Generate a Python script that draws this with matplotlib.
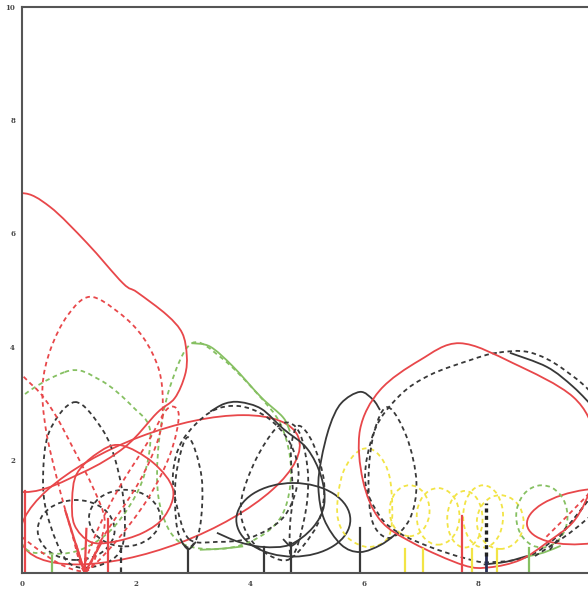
import matplotlib
matplotlib.use("Agg")
import matplotlib.pyplot as plt
from matplotlib.path import Path
from matplotlib.patches import PathPatch, Ellipse

RED = "#e8474a"
BLACK = "#383838"
GREEN = "#86c062"
YELLOW = "#f2e445"
NAVY = "#2a2f55"
DASH = (0, (2.5, 2.0))

x_ticks = [0, 2, 4, 6, 8]
y_ticks = [2, 4, 6, 8, 10]

# crown outlines, points (data units)
red_big_left = [(0, 6.71), (0.49, 6.47), (1.14, 5.83), (1.77, 5.12), (2.02, 4.96), (2.54, 4.56),
                (2.81, 4.24), (2.89, 3.85), (2.86, 3.5), (2.68, 3.09), (2.37, 2.83), (1.81, 2.23),
                (1.05, 1.77), (0.05, 1.43), (-1.05, 1.77), (-2.37, 2.83), (-2.89, 3.85),
                (-2.02, 4.96), (-1.14, 5.83), (-0.49, 6.47)]
red_dash_tall = [(1.1, 0.03), (0.85, 0.8), (0.62, 1.64), (0.42, 2.53), (0.36, 3.3), (0.5, 3.95),
                 (0.8, 4.55), (1.19, 4.88), (1.7, 4.6), (2.12, 4.17), (2.4, 3.6), (2.47, 3.0),
                 (2.4, 2.4), (2.05, 1.6), (1.4, 0.6)]
red_dash_lean_left = [(1.1, 0.03), (1.35, 0.5), (1.45, 0.95), (1.25, 1.5), (0.9, 2.2), (0.55, 2.85),
                      (0.2, 3.3), (-0.3, 3.6), (-1.2, 3.2), (-0.8, 1.5), (0.3, 0.4)]
red_dash_lean_right = [(1.1, 0.03), (1.6, 0.5), (2.2, 1.3), (2.6, 2.1), (2.75, 2.8), (2.55, 2.9),
                       (2.2, 2.3), (1.7, 1.5), (1.3, 0.7)]
red_egg_small = [(1.72, 2.26), (2.3, 1.95), (2.65, 1.47), (2.5, 1.0), (2.12, 0.71), (1.6, 0.55),
                 (1.2, 0.55), (0.92, 0.85), (0.88, 1.3), (0.96, 1.75), (1.3, 2.1)]
red_big_right = [(7.68, 4.06), (8.61, 3.71), (9.67, 3.11), (10.05, 2.4), (10.0, 1.6), (9.7, 0.94),
                 (9.2, 0.53), (8.74, 0.23), (8.2, 0.1), (7.74, 0.14), (6.86, 0.53), (6.28, 0.94),
                 (5.98, 1.64), (5.93, 2.53), (6.28, 3.23), (6.98, 3.76)]
black_dash_right = [(8.33, 3.89), (7.86, 3.76), (7.16, 3.5), (6.63, 3.14), (6.19, 2.53), (6.02, 1.64),
                    (6.28, 1.0), (6.63, 0.7), (7.16, 0.46), (7.74, 0.27), (8.21, 0.19), (9.0, 0.35),
                    (9.8, 1.1), (10.2, 2.0), (10.1, 3.0), (9.5, 3.6), (8.9, 3.9)]
black_dash_inner = [(6.42, 2.93), (6.75, 2.4), (6.92, 1.6), (6.8, 0.95), (6.45, 0.62), (6.15, 0.9),
                    (6.08, 1.7), (6.18, 2.5)]
black_tall = [(6.28, 2.88), (6.16, 3.06), (5.93, 3.2), (5.6, 3.0), (5.4, 2.6), (5.25, 2.0),
              (5.2, 1.5), (5.3, 0.95), (5.6, 0.5), (5.93, 0.37), (6.3, 0.5), (6.6, 0.72)]
black_arc_top = [(8.56, 3.89), (9.21, 3.64), (9.67, 3.29), (10.05, 2.9)]
black_arc_low = [(8.1, 0.15), (8.5, 0.2), (8.86, 0.3)]
black_mid = [(3.3, 2.85), (3.55, 2.99), (3.82, 3.02), (4.2, 2.9), (4.58, 2.55), (5.0, 2.2),
             (5.25, 1.7), (5.3, 1.2), (5.1, 0.8), (4.7, 0.5), (4.23, 0.46), (3.8, 0.55), (3.42, 0.71)]
black_dash_mid = [(2.93, 0.6), (2.72, 1.17), (2.65, 1.77), (2.82, 2.35), (3.3, 2.84), (3.8, 2.95),
                  (4.3, 2.75), (4.7, 2.3), (4.85, 1.7), (4.6, 1.0), (4.0, 0.62), (3.42, 0.55)]
black_dash_narrow = [(2.92, 0.45), (2.72, 0.8), (2.7, 1.7), (2.91, 2.4), (3.15, 1.7), (3.12, 0.8)]
black_dash_egg = [(4.7, 0.25), (4.2, 0.4), (3.9, 0.8), (3.85, 1.3), (4.1, 2.0), (4.45, 2.55),
                  (4.7, 2.65), (4.9, 2.4), (5.02, 1.7), (4.95, 0.95)]
black_dash_lean = [(4.72, 0.3), (4.95, 0.5), (5.22, 0.95), (5.3, 1.6), (5.1, 2.3), (4.85, 2.6),
                   (4.72, 2.2), (4.75, 1.4), (4.7, 0.8)]
black_dash_left = [(0.93, 3.02), (1.4, 2.55), (1.65, 1.95), (1.8, 1.1), (1.73, 0.4), (1.3, 0.12),
                   (0.8, 0.2), (0.45, 1.0), (0.37, 1.7), (0.48, 2.5)]
green_dash_left = [(0.75, 3.55), (1.37, 3.41), (1.95, 2.93), (2.25, 2.5), (2.1, 1.6), (1.6, 0.8),
                   (1.0, 0.4), (0.4, 0.35), (0.0, 0.5), (-0.5, 1.5), (-0.3, 2.8)]
green_crown = [(2.98, 4.06), (3.5, 3.8), (4.1, 3.2), (4.55, 2.6), (4.72, 1.8), (4.55, 1.0),
               (4.0, 0.55), (3.3, 0.42), (2.7, 0.6), (2.4, 1.3), (2.4, 2.3), (2.6, 3.3)]
green_arc_top = [(2.98, 4.06), (3.3, 4.0), (3.7, 3.65), (4.2, 3.1), (4.58, 2.75), (4.7, 2.5)]
green_arc_low = [(3.12, 0.41), (3.5, 0.43), (3.88, 0.47)]
green_arc_right = [(8.9, 0.3), (9.15, 0.36), (9.45, 0.48)]
yellow_egg = [(5.93, 2.17), (5.63, 1.77), (5.53, 1.06), (5.7, 0.64), (6.1, 0.46), (6.46, 0.71),
              (6.46, 1.64), (6.23, 2.12)]
red_dash_diag = [(9.2, 0.64), (9.84, 1.29), (10.3, 1.8)]
black_dash_diag = [(9.26, 0.41), (9.9, 1.24), (10.3, 1.7)]
black_dash_diag2 = [(9.0, 0.3), (9.6, 0.7), (10.2, 1.2)]
cup_a = [(2.8, 0.55), (2.92, 0.42), (3.05, 0.55)]
cup_b = [(4.58, 0.6), (4.72, 0.48), (4.88, 0.6)]

# ellipse crowns: centre x, centre y, width, height, angle
ell_cx = [2.42, 9.95, 4.76, 0.95, 1.8, 6.8, 7.3, 7.77, 8.09, 8.39, 9.12]
ell_cy = [1.47, 1.0, 0.94, 0.76, 0.97, 1.1, 1.0, 0.95, 1.0, 0.9, 1.0]
ell_w = [5.2, 2.2, 2.0, 1.35, 1.25, 0.7, 0.75, 0.62, 0.7, 0.82, 0.9]
ell_h = [2.0, 0.95, 1.3, 1.06, 1.0, 0.9, 1.0, 1.0, 1.1, 0.95, 1.1]
ell_ang = [21, 8, 0, 0, 0, 0, 0, 0, 0, 0, 0]
ell_col = [RED, RED, BLACK, BLACK, BLACK, YELLOW, YELLOW, YELLOW, YELLOW, YELLOW, GREEN]
ell_ls = ["-", "-", "-", DASH, DASH, DASH, DASH, DASH, DASH, DASH, DASH]

# stems
stem_x = [0.05, 0.52, 1.5, 1.73, 2.92, 4.24, 4.72, 5.93, 6.72, 7.04, 7.9, 8.33, 7.72, 8.9]
stem_h = [1.45, 0.3, 0.95, 0.5, 0.42, 0.46, 0.53, 0.8, 0.42, 0.42, 0.42, 0.42, 1.0, 0.45]
stem_col = [RED, GREEN, RED, BLACK, BLACK, BLACK, BLACK, BLACK, YELLOW, YELLOW, YELLOW, YELLOW, RED, GREEN]
stem_ls = ["-", "-", "-", DASH, "-", "-", "-", "-", "-", "-", "-", "-", "-", "-"]
fan_x = 1.1
fan_tips = [(0.76, 1.1), (1.13, 0.78), (1.4, 0.55), (0.95, 0.5)]


def smooth_path(pts, closed=True):
    n = len(pts)
    verts = [pts[0]]
    codes = [Path.MOVETO]
    segs = n if closed else n - 1
    for i in range(segs):
        if closed:
            p0, p1, p2, p3 = pts[i - 1], pts[i], pts[(i + 1) % n], pts[(i + 2) % n]
        else:
            p0 = pts[max(i - 1, 0)]
            p1, p2 = pts[i], pts[i + 1]
            p3 = pts[min(i + 2, n - 1)]
        c1 = (p1[0] + (p2[0] - p0[0]) / 6, p1[1] + (p2[1] - p0[1]) / 6)
        c2 = (p2[0] - (p3[0] - p1[0]) / 6, p2[1] - (p3[1] - p1[1]) / 6)
        verts += [c1, c2, p2]
        codes += [Path.CURVE4] * 3
    return Path(verts, codes)


def crown(ax, pts, color, ls, closed=True, lw=1.3):
    ax.add_patch(PathPatch(smooth_path(pts, closed), fill=False, edgecolor=color,
                           linestyle=ls, linewidth=lw, capstyle="butt"))


fig = plt.figure(figsize=(5.88, 5.90), dpi=100)
ax = fig.add_axes([22 / 588, 17 / 590, 570 / 588, 566 / 590])

for x, h, c, ls in zip(stem_x, stem_h, stem_col, stem_ls):
    ax.plot([x, x], [0, h], color=c, linestyle=ls, linewidth=1.6)
for tx, ty in fan_tips:
    ax.plot([fan_x, tx], [0, ty], color=RED, linewidth=1.6)
ax.plot([8.14, 8.14], [0, 0.3], color=NAVY, linewidth=2.0)
ax.plot([8.14, 8.14], [0.3, 1.24], color="#222222", linestyle=(0, (1.2, 1.0)), linewidth=2.4)

for cx, cy, w, h, a, c, ls in zip(ell_cx, ell_cy, ell_w, ell_h, ell_ang, ell_col, ell_ls):
    ax.add_patch(Ellipse((cx, cy), w, h, angle=a, fill=False, edgecolor=c,
                         linestyle=ls, linewidth=1.3))

crown(ax, green_dash_left, GREEN, DASH)
crown(ax, green_crown, GREEN, DASH)
crown(ax, green_arc_top, GREEN, "-", closed=False)
crown(ax, green_arc_low, GREEN, "-", closed=False)
crown(ax, green_arc_right, GREEN, "-", closed=False)
crown(ax, yellow_egg, YELLOW, DASH)

crown(ax, black_dash_left, BLACK, DASH)
crown(ax, black_dash_mid, BLACK, DASH)
crown(ax, black_dash_narrow, BLACK, DASH)
crown(ax, black_dash_egg, BLACK, DASH)
crown(ax, black_dash_lean, BLACK, DASH)
crown(ax, black_dash_right, BLACK, DASH)
crown(ax, black_dash_inner, BLACK, DASH)
crown(ax, black_dash_diag, BLACK, DASH, closed=False)
crown(ax, black_dash_diag2, BLACK, DASH, closed=False)
crown(ax, black_mid, BLACK, "-", closed=False)
crown(ax, black_tall, BLACK, "-", closed=False)
crown(ax, black_arc_top, BLACK, "-", closed=False)
crown(ax, black_arc_low, BLACK, "-", closed=False)
crown(ax, cup_a, BLACK, "-", closed=False)
crown(ax, cup_b, BLACK, "-", closed=False)

crown(ax, red_dash_tall, RED, DASH)
crown(ax, red_dash_lean_left, RED, DASH)
crown(ax, red_dash_lean_right, RED, DASH)
crown(ax, red_dash_diag, RED, DASH, closed=False)
crown(ax, red_big_left, RED, "-")
crown(ax, red_egg_small, RED, "-")
crown(ax, red_big_right, RED, "-")

ax.set_xlim(0, 10)
ax.set_ylim(0, 10)
ax.set_xticks(x_ticks)
ax.set_yticks(y_ticks)
ax.set_xticklabels([str(t) for t in x_ticks])
ax.set_yticklabels([str(t) for t in y_ticks])
ax.tick_params(length=0, labelsize=5, colors="#444444", pad=5)
for lab in ax.get_xticklabels() + ax.get_yticklabels():
    lab.set_family("DejaVu Serif")
    lab.set_fontweight("bold")
for side in ["left", "top", "bottom"]:
    ax.spines[side].set_color("#555555")
    ax.spines[side].set_linewidth(1.5)
ax.spines["right"].set_visible(False)

fig.savefig("out.png", dpi=100)
